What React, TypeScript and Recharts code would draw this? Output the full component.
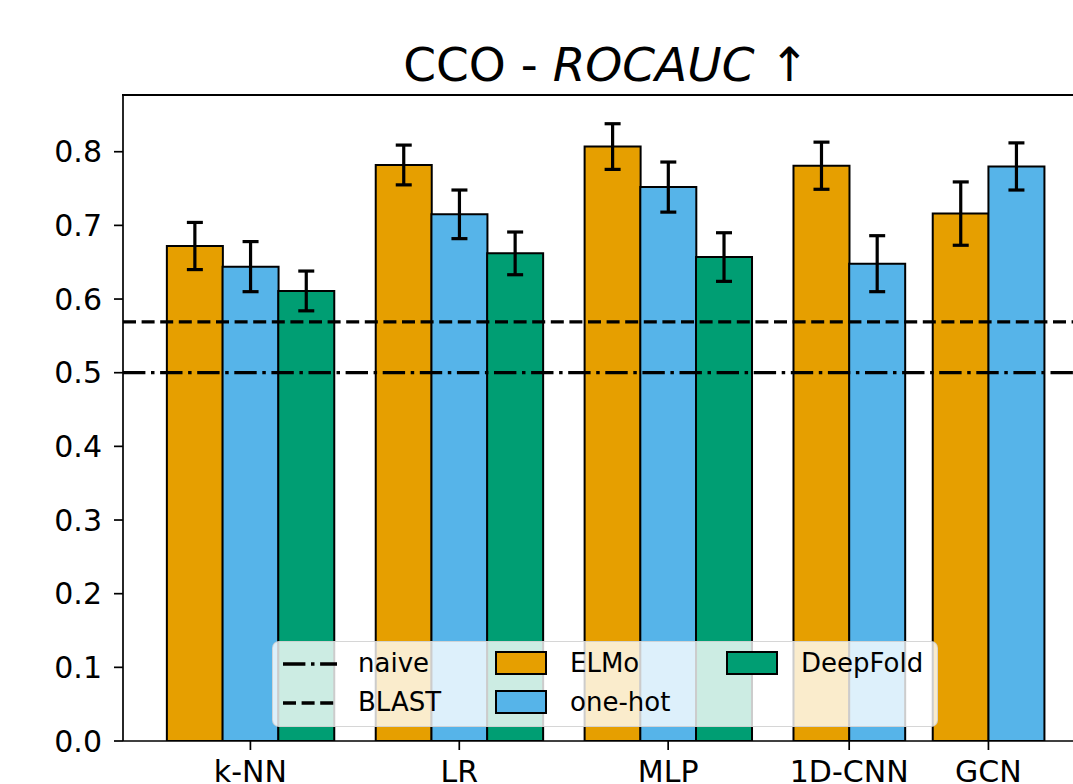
import React from 'react';
import { ComposedChart, Bar, Cell, ErrorBar, XAxis, YAxis, ReferenceLine } from 'recharts';

const models = ['k-NN', 'LR', 'MLP', '1D-CNN', 'GCN'];
const embeddings = ['ELMo', 'one-hot', 'DeepFold'];

const elmoMean = [0.672, 0.782, 0.807, 0.781, 0.716];
const elmoErr = [0.032, 0.027, 0.031, 0.032, 0.043];
const oneHotMean = [0.644, 0.715, 0.752, 0.648, 0.78];
const oneHotErr = [0.034, 0.033, 0.034, 0.038, 0.032];
const deepFoldMean = [0.611, 0.662, 0.657, null, null];
const deepFoldErr = [0.027, 0.029, 0.033, null, null];

const naiveScore = 0.5;
const blastScore = 0.569;

const yTicks = [0, 0.1, 0.2, 0.3, 0.4, 0.5, 0.6, 0.7, 0.8];
const yMax = 0.877;

const COLORS: Record<string, string> = {
  ELMo: '#E69F00',
  'one-hot': '#56B4E9',
  DeepFold: '#009E73',
};

// gaps between model groups, in bar widths
const GROUP_GAPS = [0.75, 0.75, 0.75, 0.5];
const FONT = '"DejaVu Sans", sans-serif';
const PLOT_LEFT = 123;
const PLOT_TOP = 95;

const means = [elmoMean, oneHotMean, deepFoldMean];
const errs = [elmoErr, oneHotErr, deepFoldErr];

// one row per bar, placed on a numeric x axis (unit = one bar width)
const rows: Array<{ pos: number; value: number; err: number; embedding: string }> = [];
const groupCenters: number[] = [];
let cursor = 0;
models.forEach((_, mi) => {
  const start = cursor;
  embeddings.forEach((emb, ei) => {
    const v = means[ei][mi];
    if (v == null) return;
    rows.push({ pos: cursor + 0.5, value: v, err: errs[ei][mi] as number, embedding: emb });
    cursor += 1;
  });
  groupCenters.push((start + cursor) / 2);
  if (mi < GROUP_GAPS.length) cursor += GROUP_GAPS[mi];
});
const pad = cursor * 0.05;
const xDomain = [-pad, cursor + pad];

function LegendBox() {
  const text: React.CSSProperties = { position: 'absolute', fontSize: 26, fontFamily: FONT, color: '#000', lineHeight: '26px' };
  const patch = (color: string, left: number, top: number) => (
    <div style={{ position: 'absolute', left, top, width: 52, height: 24, background: color, border: '2px solid #000', boxSizing: 'border-box' }} />
  );
  return (
    <div
      style={{
        position: 'absolute',
        left: 272,
        top: 641,
        width: 666,
        height: 86,
        background: 'rgba(255,255,255,0.8)',
        border: '1.5px solid rgba(204,204,204,0.8)',
        borderRadius: 7,
        boxSizing: 'border-box',
      }}
    >
      <svg style={{ position: 'absolute', left: 8, top: 0 }} width={60} height={86}>
        <line x1={2} x2={56} y1={22} y2={22} stroke="#000" strokeWidth={3.3} strokeDasharray="22.4 5.6 3.5 5.6" />
        <line x1={2} x2={56} y1={61} y2={61} stroke="#000" strokeWidth={3.3} strokeDasharray="13 5.6" />
      </svg>
      <div style={{ ...text, left: 85, top: 8 }}>naive</div>
      <div style={{ ...text, left: 85, top: 47 }}>BLAST</div>
      {patch(COLORS.ELMo, 222, 9)}
      <div style={{ ...text, left: 297, top: 8 }}>ELMo</div>
      {patch(COLORS['one-hot'], 222, 48)}
      <div style={{ ...text, left: 297, top: 47 }}>one-hot</div>
      {patch(COLORS.DeepFold, 453, 9)}
      <div style={{ ...text, left: 528, top: 8 }}>DeepFold</div>
    </div>
  );
}

export default function App() {
  return (
    <div style={{ position: 'fixed', left: 0, top: 0, width: 1073, height: 784, overflow: 'hidden', background: '#fff' }}>
      <div style={{ position: 'absolute', left: 0, top: 0 }}>
        <ComposedChart
          width={1110}
          height={800}
          data={rows}
          margin={{ top: PLOT_TOP, right: 22, bottom: 0, left: 0 }}
          barCategoryGap={0}
          barGap={0}
        >
          <XAxis
            type="number"
            dataKey="pos"
            domain={xDomain}
            allowDataOverflow
            ticks={groupCenters}
            interval={0}
            tickFormatter={(v: number) => models[groupCenters.indexOf(v)] ?? ''}
            height={59}
            tickSize={9}
            tickMargin={11}
            tick={{ fontSize: 30, fill: '#000', fontFamily: FONT }}
            tickLine={{ stroke: '#000', strokeWidth: 1.7 }}
            axisLine={{ stroke: '#000', strokeWidth: 1.7 }}
          />
          <YAxis
            type="number"
            domain={[0, yMax]}
            allowDataOverflow
            ticks={yTicks}
            interval={0}
            tickFormatter={(v: number) => v.toFixed(1)}
            width={PLOT_LEFT}
            tickSize={9}
            tickMargin={12}
            tick={{ fontSize: 30, fill: '#000', fontFamily: FONT }}
            tickLine={{ stroke: '#000', strokeWidth: 1.7 }}
            axisLine={{ stroke: '#000', strokeWidth: 1.7 }}
          />
          <Bar dataKey="value" stroke="#000" strokeWidth={2} isAnimationActive={false}>
            {rows.map((r, i) => (
              <Cell key={i} fill={COLORS[r.embedding]} />
            ))}
            <ErrorBar dataKey="err" direction="y" width={8} stroke="#000" strokeWidth={3.2} />
          </Bar>
          <ReferenceLine y={naiveScore} stroke="#000" strokeWidth={3.3} strokeDasharray="22.4 5.6 3.5 5.6" />
          <ReferenceLine y={blastScore} stroke="#000" strokeWidth={3.3} strokeDasharray="13 5.6" />
        </ComposedChart>
      </div>
      <svg style={{ position: 'absolute', left: 0, top: 0, pointerEvents: 'none' }} width={1073} height={92}>
        <text x={606} y={81} textAnchor="middle" fontFamily={FONT} fontSize={47} fill="#000">
          CCO - <tspan fontStyle="italic">ROCAUC</tspan> ↑
        </text>
      </svg>
      {/* top spine of the axes frame */}
      <div
        style={{
          position: 'absolute',
          left: PLOT_LEFT - 1,
          top: PLOT_TOP - 1,
          width: 1073 - PLOT_LEFT + 1,
          height: 2,
          background: '#000',
          zIndex: 5,
        }}
      />
      <LegendBox />
    </div>
  );
}
